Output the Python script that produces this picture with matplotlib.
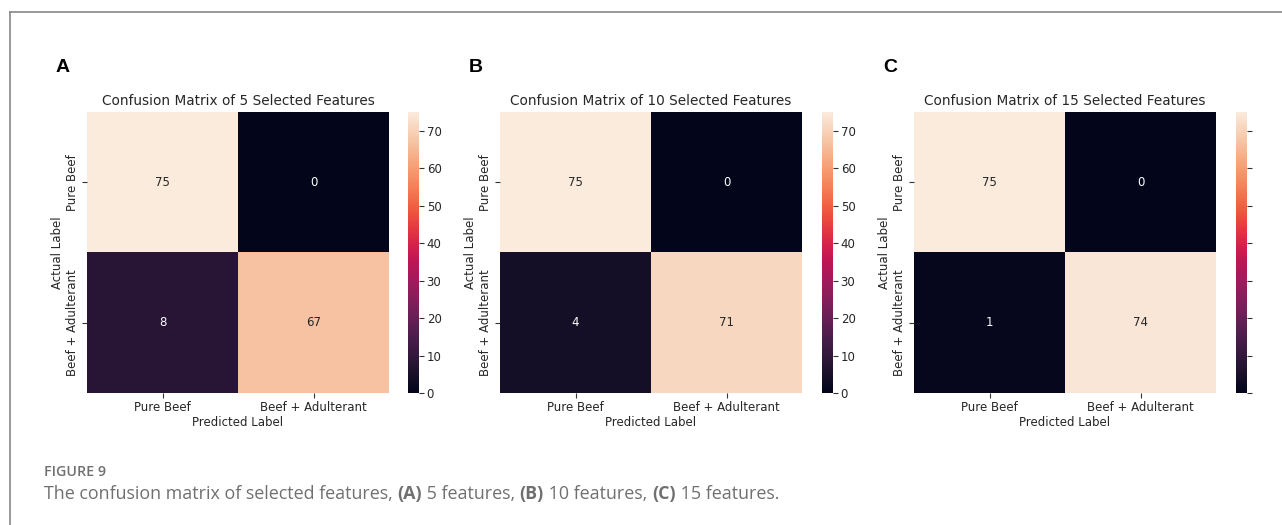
import numpy as np
import matplotlib
matplotlib.use("Agg")
import matplotlib.pyplot as plt
import seaborn as sns
from matplotlib.lines import Line2D

# ---- data ----
panel_letters = ["A", "B", "C"]
titles = ["Confusion Matrix of 5 Selected Features",
          "Confusion Matrix of 10 Selected Features",
          "Confusion Matrix of 15 Selected Features"]
class_labels = ["Pure Beef", "Beef + Adulterant"]
cm_5 = [[75, 0], [8, 67]]
cm_10 = [[75, 0], [4, 71]]
cm_15 = [[75, 0], [1, 74]]
matrices = [cm_5, cm_10, cm_15]
cbar_ticks = [0, 10, 20, 30, 40, 50, 60, 70]
show_cbar_labels = [True, True, False]
caption_parts = [("The confusion matrix of selected features, ", "normal"),
                 ("(A)", "bold"), (" 5 features, ", "normal"),
                 ("(B)", "bold"), (" 10 features, ", "normal"),
                 ("(C)", "bold"), (" 15 features.", "normal")]

W, H = 1282, 525
fig = plt.figure(figsize=(W / 100, H / 100), dpi=100)
cmap = sns.color_palette("rocket", as_cmap=True)

def fx(px):
    return px / W

def fy(py):
    return 1 - py / H

heat_left = [87, 500, 914]
heat_w = 302
cbar_left = [408, 822, 1236]
top_px, bot_px = 112, 393
label_col = "#262626"

for i, cm in enumerate(matrices):
    data = np.array(cm, dtype=float)
    ax = fig.add_axes([fx(heat_left[i]), fy(bot_px), fx(heat_w), (bot_px - top_px) / H])
    vmin, vmax = data.min(), data.max()
    mesh = ax.pcolormesh(data, cmap=cmap, vmin=vmin, vmax=vmax)
    ax.set_xlim(0, 2)
    ax.set_ylim(2, 0)
    for r in range(2):
        for c in range(2):
            v = data[r, c]
            rgba = cmap((v - vmin) / (vmax - vmin))
            lum = 0.2126 * rgba[0] + 0.7152 * rgba[1] + 0.0722 * rgba[2]
            col = "#262626" if lum > 0.408 else "white"
            ax.text(c + 0.5, r + 0.5, f"{int(v)}", ha="center", va="center",
                    fontsize=8.5, color=col)
    for s in ax.spines.values():
        s.set_visible(False)
    ax.set_xticks([0.5, 1.5])
    ax.set_xticklabels(class_labels, fontsize=8.5, color=label_col)
    ax.set_yticks([0.5, 1.5])
    ax.set_yticklabels(class_labels, fontsize=8.5, rotation=90, va="center", color=label_col)
    ax.tick_params(length=3.5, width=0.8, color="#333333", pad=2)
    ax.set_xlabel("Predicted Label", fontsize=8.5, color=label_col, labelpad=2)
    ax.set_ylabel("Actual Label", fontsize=8.5, color=label_col, labelpad=2)
    ax.set_title(titles[i], fontsize=9.8, color=label_col, pad=5)

    cax = fig.add_axes([fx(cbar_left[i]), fy(bot_px), fx(11), (bot_px - top_px) / H])
    cb = fig.colorbar(mesh, cax=cax)
    cb.outline.set_visible(False)
    cb.set_ticks(cbar_ticks)
    cax.tick_params(length=3.5, width=0.8, color="#333333", labelsize=8.5,
                    labelcolor=label_col, pad=2)
    if not show_cbar_labels[i]:
        cax.set_yticklabels([])

    fig.text(fx(heat_left[i] - 31), fy(68), panel_letters[i], fontsize=14,
             fontweight="bold", family="Liberation Sans", ha="left", va="center")

# frame lines (top and left)
fig.add_artist(Line2D([fx(10), 1.0], [fy(12), fy(12)], color="#888888", lw=1.2))
fig.add_artist(Line2D([fx(10), fx(10)], [fy(12), 0.0], color="#888888", lw=1.2))

# caption
fig.text(fx(44), fy(472), "FIGURE 9", fontsize=10.3, color="#707070",
         family="Open Sans", fontweight="semibold", ha="left", va="center")

renderer = fig.canvas.get_renderer()
x_px = 44
for txt, wt in caption_parts:
    t = fig.text(fx(x_px), fy(494), txt, fontsize=12.9, color="#707070",
                 family="Open Sans", fontweight=wt, ha="left", va="center")
    bb = t.get_window_extent(renderer=renderer)
    x_px += bb.width

fig.savefig("out.png", dpi=100)
